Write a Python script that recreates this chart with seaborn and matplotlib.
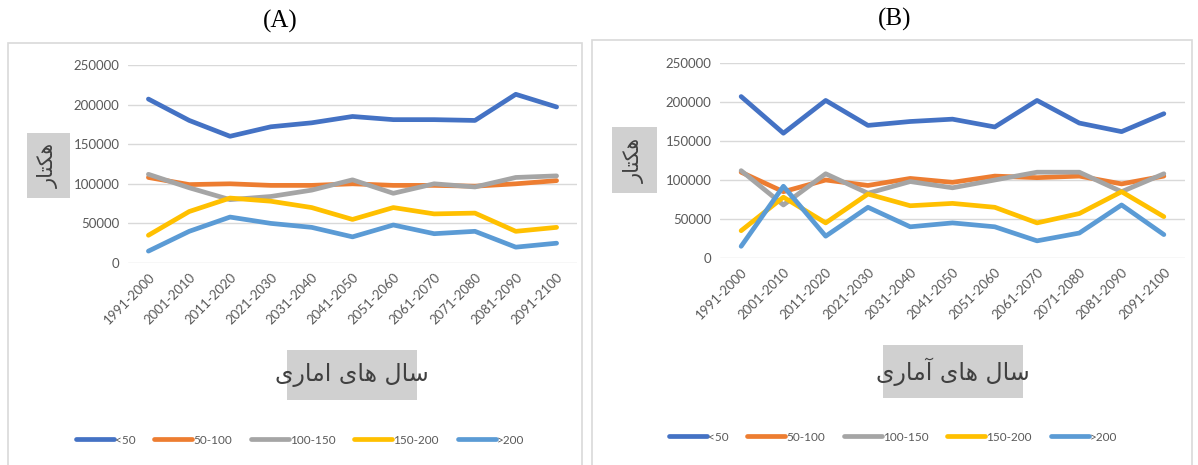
import numpy as np
import pandas as pd
import matplotlib
matplotlib.use("Agg")
import matplotlib.pyplot as plt
import seaborn as sns
from matplotlib.patches import Rectangle
from matplotlib.lines import Line2D

# ---------------- data ----------------
periods = ["1991-2000", "2001-2010", "2011-2020", "2021-2030", "2031-2040", "2041-2050",
           "2051-2060", "2061-2070", "2071-2080", "2081-2090", "2091-2100"]
classes = ["<50", "50-100", "100-150", "150-200", ">200"]

a_lt50    = [207000, 180000, 160000, 172000, 177000, 185000, 181000, 181000, 180000, 213000, 197000]
a_50_100  = [108000,  99000, 100000,  98000,  98000, 100000,  98000,  98000,  97000, 100000, 104000]
a_100_150 = [112000,  95000,  80000,  84000,  92000, 105000,  88000, 100000,  96000, 108000, 110000]
a_150_200 = [ 35000,  65000,  82000,  78000,  70000,  55000,  70000,  62000,  63000,  40000,  45000]
a_gt200   = [ 15000,  40000,  58000,  50000,  45000,  33000,  48000,  37000,  40000,  20000,  25000]

b_lt50    = [207000, 160000, 202000, 170000, 175000, 178000, 168000, 202000, 173000, 162000, 185000]
b_50_100  = [110000,  85000, 100000,  93000, 102000,  97000, 105000, 103000, 105000,  95000, 105000]
b_100_150 = [112000,  68000, 108000,  83000,  98000,  90000, 100000, 110000, 110000,  85000, 108000]
b_150_200 = [ 35000,  78000,  45000,  82000,  67000,  70000,  65000,  45000,  57000,  85000,  53000]
b_gt200   = [ 15000,  92000,  28000,  65000,  40000,  45000,  40000,  22000,  32000,  68000,  30000]

yticks = [0, 50000, 100000, 150000, 200000, 250000]
titles = ["(A)", "(B)"]
ylabel_text = "هکتار"
xlabel_texts = ["سال های اماری", "سال های آماری"]

colors = ["#4472C4", "#ED7D31", "#A5A5A5", "#FFC000", "#5B9BD5"]

# ------------- minimal Arabic/Persian shaping (matplotlib has no text shaping) -------------
FORMS = {  # isolated, final, initial, medial
    "\u0627": ("\uFE8D", "\uFE8E", None, None),
    "\u0622": ("\uFE81", "\uFE82", None, None),
    "\u0631": ("\uFEAD", "\uFEAE", None, None),
    "\u0647": ("\uFEE9", "\uFEEA", "\uFEEB", "\uFEEC"),
    "\u06A9": ("\uFB8E", "\uFB8F", "\uFB90", "\uFB91"),
    "\u062A": ("\uFE95", "\uFE96", "\uFE97", "\uFE98"),
    "\u0633": ("\uFEB1", "\uFEB2", "\uFEB3", "\uFEB4"),
    "\u0644": ("\uFEDD", "\uFEDE", "\uFEDF", "\uFEE0"),
    "\u06CC": ("\uFBFC", "\uFBFD", "\uFBFE", "\uFBFF"),
    "\u0645": ("\uFEE1", "\uFEE2", "\uFEE3", "\uFEE4"),
}


def shape(text):
    out = []
    n = len(text)
    for i, ch in enumerate(text):
        if ch not in FORMS:
            out.append(ch)
            continue
        f = FORMS[ch]
        prev = text[i - 1] if i > 0 else None
        nxt = text[i + 1] if i < n - 1 else None
        jp = prev in FORMS and FORMS[prev][2] is not None
        jn = f[2] is not None and nxt in FORMS
        if jp and jn:
            out.append(f[3])
        elif jp:
            out.append(f[1])
        elif jn:
            out.append(f[2])
        else:
            out.append(f[0])
    return "".join(out)[::-1]


# ---------------- figure ----------------
sns.set_theme(style="white")
plt.rcParams["font.family"] = ["Lato", "DejaVu Sans"]

W, H = 1198, 465
fig = plt.figure(figsize=(W / 100, H / 100), dpi=100)


def fx(px):
    return px / W


def fy(py):
    return 1 - py / H


panels = [
    dict(data=[a_lt50, a_50_100, a_100_150, a_150_200, a_gt200],
         box=(8, 43, 582, 470), ax=(128, 65, 577, 263), title_xy=(280, 21),
         ylab=(27, 133, 70, 198), xlab=(287, 350, 417, 400), leg_y=440, leg_x=300),
    dict(data=[b_lt50, b_50_100, b_100_150, b_150_200, b_gt200],
         box=(592, 40, 1192, 470), ax=(720, 63, 1185, 258), title_xy=(895, 19),
         ylab=(612, 127, 657, 193), xlab=(883, 345, 1023, 398), leg_y=437, leg_x=893),
]

for k, p in enumerate(panels):
    # panel border
    bx0, by0, bx1, by1 = p["box"]
    fig.patches.append(Rectangle((fx(bx0), fy(by1)), fx(bx1 - bx0), (by1 - by0) / H,
                                 transform=fig.transFigure, fill=False,
                                 edgecolor="#d9d9d9", linewidth=1.2))
    # title
    fig.text(fx(p["title_xy"][0]), fy(p["title_xy"][1]), titles[k], ha="center", va="center",
             fontsize=18, family="Liberation Serif", color="black")

    x0, y0, x1, y1 = p["ax"]
    ax = fig.add_axes([fx(x0), fy(y1), fx(x1 - x0), (y1 - y0) / H])
    rows = []
    for cls, vals in zip(classes, p["data"]):
        for per, v in zip(periods, vals):
            rows.append(dict(period=per, cls=cls, value=v))
    df = pd.DataFrame(rows)
    sns.lineplot(data=df, x="period", y="value", hue="cls", hue_order=classes,
                 palette=colors, linewidth=3.4, sort=False, ax=ax, legend=False)
    ax.set_xlim(-0.5, len(periods) - 0.5)
    ax.set_ylim(0, 250000)
    ax.set_yticks(yticks)
    ax.set_yticklabels([str(t) for t in yticks])
    ax.set_xticks(range(len(periods)))
    ax.set_xticklabels(periods, rotation=45, ha="right", rotation_mode="anchor")
    ax.tick_params(axis="both", labelsize=9.5, colors="#595959", length=0, pad=6)
    ax.grid(axis="y", color="#d9d9d9", linewidth=1.0)
    ax.grid(axis="x", visible=False)
    for s in ax.spines.values():
        s.set_visible(False)
    ax.set_xlabel("")
    ax.set_ylabel("")

    # y label box
    lx0, ly0, lx1, ly1 = p["ylab"]
    fig.patches.append(Rectangle((fx(lx0), fy(ly1)), fx(lx1 - lx0), (ly1 - ly0) / H,
                                 transform=fig.transFigure, facecolor="#d0d0d0", edgecolor="none"))
    fig.text(fx((lx0 + lx1) / 2), fy((ly0 + ly1) / 2), shape(ylabel_text), rotation=90,
             ha="center", va="center", fontsize=15, color="#404040",
             family=["DejaVu Sans"])
    # x label box
    lx0, ly0, lx1, ly1 = p["xlab"]
    fig.patches.append(Rectangle((fx(lx0), fy(ly1)), fx(lx1 - lx0), (ly1 - ly0) / H,
                                 transform=fig.transFigure, facecolor="#d0d0d0", edgecolor="none"))
    fig.text(fx((lx0 + lx1) / 2), fy((ly0 + ly1) / 2), shape(xlabel_texts[k]),
             ha="center", va="center", fontsize=17, color="#404040",
             family=["DejaVu Sans"])

    # legend
    handles = [Line2D([0], [0], color=c, linewidth=3.4) for c in colors]
    fig.legend(handles, classes, loc="center", bbox_to_anchor=(fx(p["leg_x"]), fy(p["leg_y"])),
               ncol=5, frameon=False, fontsize=8.5, handlelength=3.2, handletextpad=0.1,
               columnspacing=1.6, labelcolor="#595959")

fig.savefig("out.png", dpi=100)
